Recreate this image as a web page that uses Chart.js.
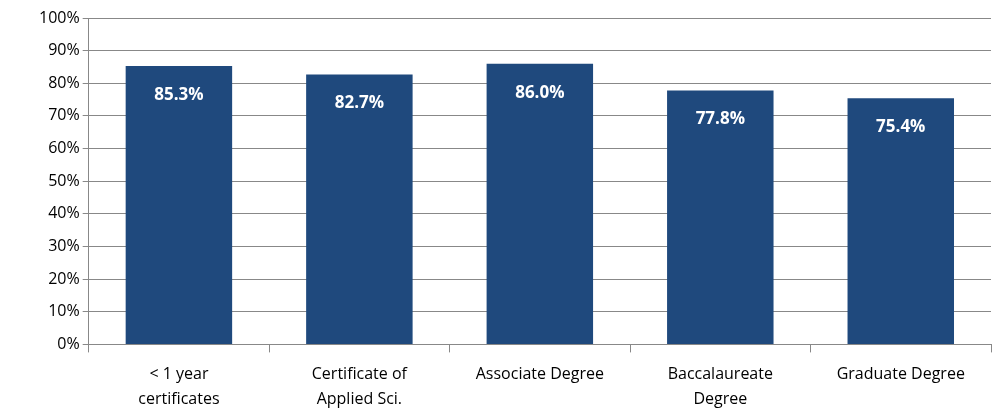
<!DOCTYPE html>
<html>
<head>
<meta charset="utf-8">
<script src="https://cdn.jsdelivr.net/npm/chart.js@4"></script>
<style>
  html, body { margin: 0; padding: 0; background: #fff; }
  #wrap { width: 995px; height: 414px; }
</style>
</head>
<body>
<div id="wrap"><canvas id="c"></canvas></div>
<script>
// Data
const categories = [
  ['< 1 year', 'certificates'],
  ['Certificate of', 'Applied Sci.'],
  ['Associate Degree'],
  ['Baccalaureate', 'Degree'],
  ['Graduate Degree']
];
const values = [85.3, 82.7, 86.0, 77.8, 75.4];

const barColor = '#1f497d';

// white value labels near top of each bar
const valueLabels = {
  id: 'valueLabels',
  afterDatasetsDraw(chart) {
    const ctx = chart.ctx;
    const meta = chart.getDatasetMeta(0);
    ctx.save();
    ctx.fillStyle = '#ffffff';
    ctx.font = 'bold 17px "Open Sans", sans-serif';
    ctx.textAlign = 'center';
    ctx.textBaseline = 'middle';
    meta.data.forEach((bar, i) => {
      ctx.fillText(values[i].toFixed(1) + '%', bar.x, bar.y + 29);
    });
    ctx.restore();
  }
};

new Chart(document.getElementById('c'), {
  type: 'bar',
  data: {
    labels: categories,
    datasets: [{
      data: values,
      backgroundColor: barColor,
      borderWidth: 0,
      barPercentage: 0.59,
      categoryPercentage: 1
    }]
  },
  options: {
    responsive: true,
    maintainAspectRatio: false,
    animation: false,
    layout: { padding: { left: 36, right: 4, top: 18, bottom: -8 } },
    plugins: { legend: { display: false }, tooltip: { enabled: false } },
    scales: {
      x: {
        grid: { display: true, offset: true, drawOnChartArea: false, tickLength: 8, color: '#888' },
        border: { color: '#888' },
        ticks: { color: '#000', font: { family: '"Open Sans", sans-serif', size: 16, lineHeight: 1.55 }, maxRotation: 0, padding: 10 }
      },
      y: {
        min: 0, max: 100,
        ticks: {
          stepSize: 10,
          color: '#000',
          font: { family: '"Open Sans", sans-serif', size: 16 },
          callback: v => v + '%'
        },
        grid: { color: '#888', tickLength: 6 },
        border: { color: '#888' }
      }
    }
  },
  plugins: [valueLabels]
});
</script>
</body>
</html>
